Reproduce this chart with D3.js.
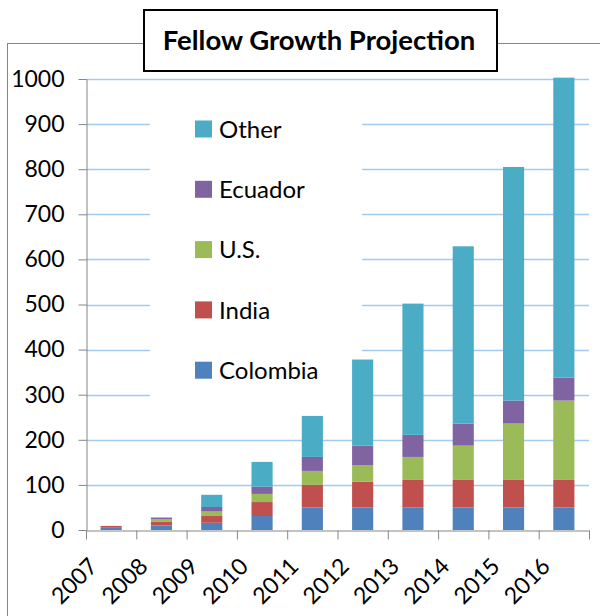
<!DOCTYPE html>
<html>
<head>
<meta charset="utf-8">
<script src="https://cdn.jsdelivr.net/npm/d3@7"></script>
<style>
  body { margin: 0; background: #fff; }
  text { font-family: Lato, "Open Sans", sans-serif; fill: #000; }
</style>
</head>
<body>
<div class="chart"></div>
<script>
// data
const years = ["2007", "2008", "2009", "2010", "2011", "2012", "2013", "2014", "2015", "2016"]
const seriesNames = ["Colombia", "India", "U.S.", "Ecuador", "Other"]
const colombia = [5, 10, 16, 31, 50, 50, 50, 50, 50, 50]
const india    = [4, 8, 15, 31, 50, 57, 61, 61, 61, 61]
const us       = [0, 6, 10, 18, 31, 37, 51, 76, 125, 176]
const ecuador  = [0, 3, 10, 16, 31, 43, 49, 49, 51, 51]
const other    = [0, 1, 27, 55, 91, 191, 291, 393, 518, 665]
const yTicks   = [0, 100, 200, 300, 400, 500, 600, 700, 800, 900, 1000]

const colors = ["#4f81bd", "#c0504d", "#9bbb59", "#8064a2", "#4bacc6"]

const width = 600, height = 616
const plot = {left: 86, right: 589, top: 79, bottom: 530}

const svg = d3.select(".chart").append("svg")
    .attr("width", width)
    .attr("height", height)

// outer chart border
svg.append("rect")
    .attr("x", 7.5).attr("y", 43.5)
    .attr("width", 620).attr("height", 620)
    .attr("fill", "#fff")
    .attr("stroke", "#868686")

// table for the stack
const rows = years.map((yr, i) => ({
  year: yr,
  "Colombia": colombia[i],
  "India": india[i],
  "U.S.": us[i],
  "Ecuador": ecuador[i],
  "Other": other[i]
}))
const stacked = d3.stack().keys(seriesNames)(rows)

// scales
const x = d3.scaleBand()
    .domain(years)
    .range([plot.left, plot.right])
    .paddingInner(0.58)
    .paddingOuter(0.29)
const xEdges = d3.scaleLinear()
    .domain([0, years.length])
    .range([plot.left, plot.right])
const y = d3.scaleLinear()
    .domain([0, 1000])
    .range([plot.bottom, plot.top])

// gridlines
svg.append("g")
    .attr("class", "grid")
    .selectAll("line")
    .data(yTicks.filter(d => d > 0))
  .enter().append("line")
    .attr("x1", plot.left).attr("x2", plot.right)
    .attr("y1", d => Math.round(y(d)) + 0.5)
    .attr("y2", d => Math.round(y(d)) + 0.5)
    .attr("stroke", "#a3cbf2")
    .attr("stroke-width", 1.5)

// legend background hides the gridlines behind it
svg.append("rect")
    .attr("x", 150).attr("y", 92)
    .attr("width", 212).attr("height", 314)
    .attr("fill", "#fff")

// bars
const layer = svg.selectAll("g.layer")
    .data(stacked)
  .enter().append("g")
    .attr("class", "layer")
    .attr("fill", (d, i) => colors[i])
layer.selectAll("rect")
    .data(d => d)
  .enter().append("rect")
    .attr("x", d => x(d.data.year))
    .attr("width", x.bandwidth())
    .attr("y", d => y(d[1]))
    .attr("height", d => y(d[0]) - y(d[1]))

// y axis
const yAxis = svg.append("g")
    .attr("transform", `translate(${plot.left + 0.5},0)`)
    .call(d3.axisLeft(y).tickValues(yTicks).tickFormat(d3.format("d"))
      .tickSize(8).tickSizeOuter(0).tickPadding(14))
yAxis.selectAll("path, line").attr("stroke", "#868686")
yAxis.selectAll("text")
    .attr("font-size", 23)
    .attr("font-family", "Lato, sans-serif")
    .attr("fill", "#000")

// x axis: ticks between categories
const xAxis = svg.append("g")
    .attr("transform", `translate(0,${plot.bottom + 0.5})`)
    .call(d3.axisBottom(xEdges).ticks(years.length).tickSize(9).tickSizeOuter(0).tickFormat(""))
xAxis.selectAll("path, line").attr("stroke", "#868686")

// x labels, rotated
svg.append("g")
    .selectAll("text")
    .data(years)
  .enter().append("text")
    .attr("transform", d => `translate(${x(d) + x.bandwidth() / 2 - 18},${plot.bottom + 32}) rotate(-45)`)
    .attr("text-anchor", "end")
    .attr("dy", "0.35em")
    .attr("font-size", 23)
    .text(d => d)

// legend
const legend = svg.append("g")
    .selectAll("g")
    .data(seriesNames.slice().reverse())
  .enter().append("g")
    .attr("transform", (d, i) => `translate(195,${129 + i * 60.3})`)
legend.append("rect")
    .attr("x", 0).attr("y", -8.5)
    .attr("width", 17).attr("height", 17)
    .attr("fill", d => colors[seriesNames.indexOf(d)])
legend.append("text")
    .attr("x", 24)
    .attr("dy", "0.36em")
    .attr("font-size", 24)
    .text(d => d)

// title box
svg.append("rect")
    .attr("x", 144).attr("y", 10)
    .attr("width", 353).attr("height", 61)
    .attr("fill", "#fff")
    .attr("stroke", "#000")
    .attr("stroke-width", 2)
svg.append("text")
    .attr("x", 319).attr("y", 40)
    .attr("text-anchor", "middle")
    .attr("dy", "0.36em")
    .attr("font-size", 27.5)
    .attr("font-weight", "bold")
    .text("Fellow Growth Projection")
</script>
</body>
</html>
